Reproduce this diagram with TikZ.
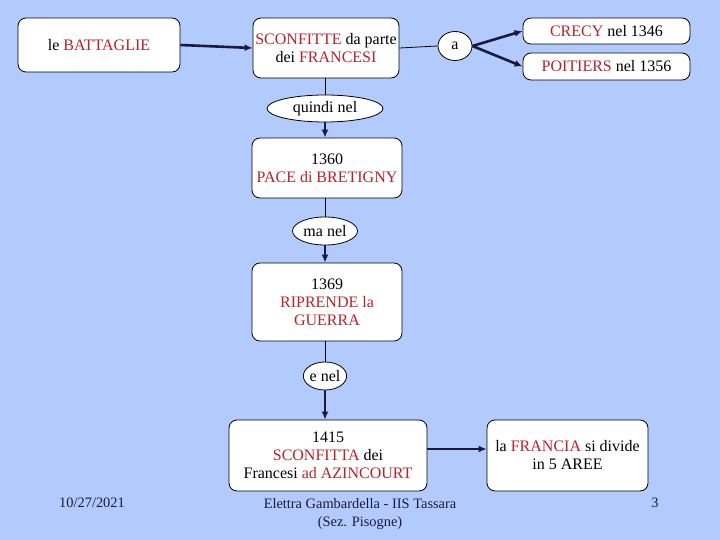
\documentclass[tikz,border=0pt]{standalone}
\usepackage{fontspec}
\setmainfont{Liberation Serif}
\usetikzlibrary{shapes.geometric,arrows.meta}
\definecolor{bg}{HTML}{B3CBFC}
\definecolor{rd}{HTML}{B8232B}
\definecolor{ft}{HTML}{1A1A40}
\tikzset{
  box/.style={draw=black, line width=0.8pt, fill=white, rounded corners=8pt, align=center, inner sep=0pt, font=\fontsize{16}{18}\selectfont},
  oval/.style={draw=black, line width=0.8pt, fill=white, ellipse, inner sep=0pt, font=\fontsize{16}{18}\selectfont},
  thin/.style={line width=0.8pt, draw=black},
  thick/.style={line width=2.6pt, draw=ft, -{Latex[length=8pt,width=7pt]}},
  foot/.style={text=ft, align=center, font=\fontsize{14.4}{17.5}\selectfont}
}
\newcommand{\R}[1]{\textcolor{rd}{#1}}
\begin{document}
\begin{tikzpicture}[x=1pt,y=-1pt]
\fill[bg] (0,0) rectangle (720,540);
\useasboundingbox (0,0) rectangle (720,540);

\node[box, minimum width=162pt, minimum height=54pt] (bat) at (99,45) {le \R{BATTAGLIE}};
\node[box, minimum width=146pt, minimum height=60pt] (sco) at (326,48) {\R{SCONFITTE} da parte\\dei \R{FRANCESI}};
\node[oval, minimum width=34pt, minimum height=29pt] (a) at (455,46) {a};
\node[box, minimum width=167pt, minimum height=26pt] (cre) at (606.5,31) {\R{CRECY} nel 1346};
\node[box, minimum width=167pt, minimum height=27pt] (poi) at (606.5,66.5) {\R{POITIERS} nel 1356};
\node[oval, minimum width=116pt, minimum height=27pt] (qui) at (325,108.5) {quindi nel};
\node[box, minimum width=150pt, minimum height=60pt] (pace) at (327,168) {1360\\\R{PACE di BRETIGNY}};
\node[oval, minimum width=65pt, minimum height=28pt] (ma) at (325,231) {ma nel};
\node[box, minimum width=150pt, minimum height=78pt] (rip) at (327,302) {1369\\\R{RIPRENDE la}\\\R{GUERRA}};
\node[oval, minimum width=42pt, minimum height=28pt] (enel) at (325,376) {e nel};
\node[box, minimum width=198pt, minimum height=71pt] (azi) at (328,455.5) {1415\\\R{SCONFITTA} dei\\Francesi \R{ad AZINCOURT}};
\node[box, minimum width=161pt, minimum height=71pt] (fra) at (567.5,455.5) {la \R{FRANCIA} si divide\\in 5 AREE};

\node[foot] (date) at (92,503) {10/27/2021};
\node[foot] (auth) at (360,514) {Elettra Gambardella - IIS Tassara\\(Sez. Pisogne)};
\node[foot] (num) at (655,503) {3};

\draw[thick] (bat.east) -- (sco.west);
\draw[thin] (sco.east) -- (a.west);
\draw[thick] (a.east) -- (cre.west);
\draw[thick] (a.east) -- (poi.west);
\draw[thin] (sco.south -| qui.north) -- (qui.north);
\draw[thick] (qui.south) -- (qui.south |- pace.north);
\draw[thin] (pace.south -| ma.north) -- (ma.north);
\draw[thick] (ma.south) -- (ma.south |- rip.north);
\draw[thin] (rip.south -| enel.north) -- (enel.north);
\draw[thick] (enel.south) -- (enel.south |- azi.north);
\draw[thick] (azi.east |- 0,449) -- (fra.west |- 0,449);
\end{tikzpicture}
\end{document}
